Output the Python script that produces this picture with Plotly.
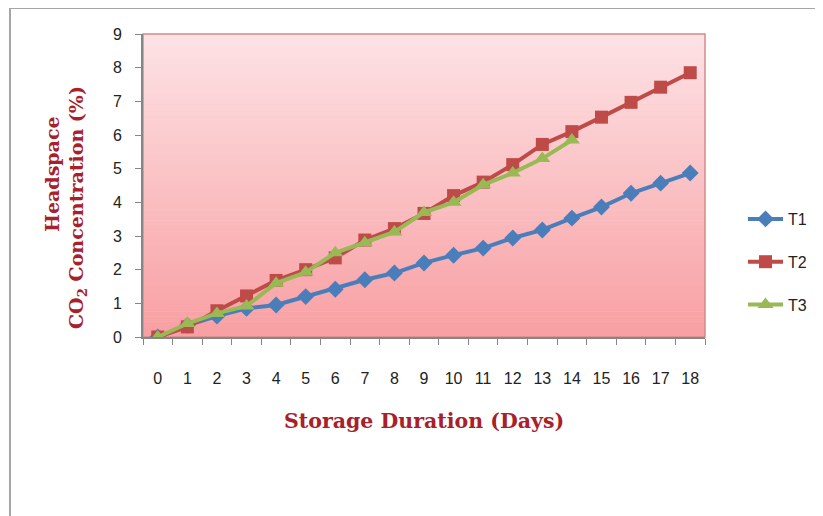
import plotly.graph_objects as go

days = [str(d) for d in range(19)]
t1 = [0.0, 0.35, 0.62, 0.85, 0.95, 1.2, 1.42, 1.7, 1.9, 2.2, 2.43, 2.64, 2.94, 3.18, 3.53, 3.86, 4.27, 4.57, 4.87]
t2 = [0.0, 0.3, 0.78, 1.22, 1.68, 2.0, 2.35, 2.88, 3.22, 3.67, 4.2, 4.6, 5.12, 5.72, 6.1, 6.53, 6.97, 7.42, 7.85]
t3 = [0.0, 0.4, 0.7, 0.92, 1.6, 1.92, 2.5, 2.8, 3.12, 3.7, 4.0, 4.52, 4.87, 5.3, 5.85]
series_names = ["T1", "T2", "T3"]
y_ticks = list(range(10))

W, H = 823, 516
OX, OY = 8, 8  # page offset of the figure


def px(x):
    return (x - OX) / W


def py(y):
    return 1 - (y - OY) / H


colors = ["#4A7EBB", "#BE4B48", "#98B954"]
symbols = ["diamond", "square", "triangle-up"]
sizes = [13, 13, 14]

fig = go.Figure()
for name, vals, c, s, sz in zip(series_names, [t1, t2, t3], colors, symbols, sizes):
    fig.add_trace(go.Scatter(
        x=days[:len(vals)], y=vals, name=name, mode="lines+markers",
        line=dict(color=c, width=4),
        marker=dict(symbol=s, size=sz, color=c, line=dict(width=0)),
        legendgroup=name,
    ))

shapes = []
n = 60
top = (253, 226, 229)
bot = (248, 160, 163)
for i in range(n):
    f = i / (n - 1)
    r = round(top[0] + (bot[0] - top[0]) * f)
    g = round(top[1] + (bot[1] - top[1]) * f)
    b = round(top[2] + (bot[2] - top[2]) * f)
    shapes.append(dict(type="rect", xref="x domain", yref="y domain",
                       x0=0, x1=1, y0=1 - (i + 1) / n, y1=1 - i / n + 0.002,
                       fillcolor=f"rgb({r},{g},{b})", line=dict(width=0), layer="below"))
shapes.append(dict(type="rect", xref="x domain", yref="y domain", x0=0, x1=1, y0=0, y1=1,
                   line=dict(color="#D48A8C", width=1.5), fillcolor="rgba(0,0,0,0)", layer="below"))
shapes.append(dict(type="line", xref="paper", yref="paper", x0=px(10), x1=1, y0=py(8), y1=py(8),
                   line=dict(color="#A6A6A6", width=2)))
shapes.append(dict(type="line", xref="paper", yref="paper", x0=px(10), x1=px(10), y0=0, y1=py(8),
                   line=dict(color="#A6A6A6", width=2)))

x_title_font = dict(family="DejaVu Serif", size=20.5, color="#A8202A")
y_title_font = dict(family="DejaVu Serif", size=19, color="#A8202A")
tick_font = dict(family="Liberation Sans", size=16, color="#222222")

fig.update_layout(
    width=W, height=H,
    margin=dict(l=0, r=0, t=0, b=0, autoexpand=False),
    paper_bgcolor="white", plot_bgcolor="rgba(0,0,0,0)",
    shapes=shapes,
    showlegend=True,
    legend=dict(x=px(743), y=py(202), xanchor="left", yanchor="top",
                font=dict(family="Liberation Sans", size=16, color="#222222"),
                tracegroupgap=19, traceorder="grouped", itemwidth=35,
                bgcolor="rgba(0,0,0,0)"),
    xaxis=dict(type="category", domain=[px(143), px(705)], range=[-0.5, 18.5],
               showline=True, linecolor="#868686", linewidth=2,
               ticks="outside", ticklen=6, tickcolor="#868686", tickson="boundaries",
               ticklabelstandoff=26, showgrid=False, zeroline=False, automargin=False,
               tickfont=tick_font),
    yaxis=dict(domain=[py(337), py(34)], range=[0, 9], tickvals=y_ticks,
               showline=True, linecolor="#868686", linewidth=2,
               ticks="outside", ticklen=6, tickcolor="#868686",
               ticklabelstandoff=10, showgrid=False, zeroline=False, automargin=False,
               tickfont=tick_font),
    annotations=[
        dict(text="<b>Storage Duration (Days)</b>", xref="paper", yref="paper",
             x=px(424), y=py(421), xanchor="center", yanchor="middle",
             showarrow=False, font=x_title_font),
        dict(text="<b>Headspace</b>", xref="paper", yref="paper",
             x=px(52), y=py(174), xanchor="center", yanchor="middle",
             showarrow=False, textangle=-90, font=y_title_font),
        dict(text="<b>CO<sub>2</sub> Concentration (%)</b>", xref="paper", yref="paper",
             x=px(77), y=py(208), xanchor="center", yanchor="middle",
             showarrow=False, textangle=-90, font=y_title_font),
    ],
)

fig.write_html("out.html")
